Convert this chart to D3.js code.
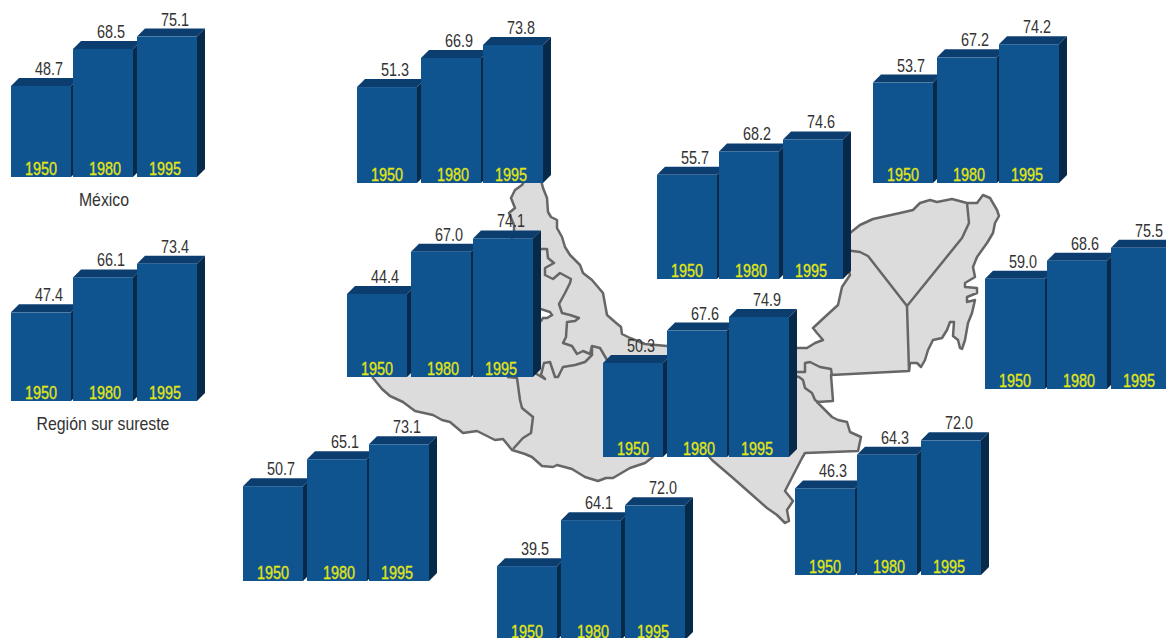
<!DOCTYPE html>
<html>
<head>
<meta charset="utf-8">
<script src="https://cdnjs.cloudflare.com/ajax/libs/d3/7.8.5/d3.min.js"></script>
<style>
body{margin:0;background:#fff;overflow:hidden}
svg{display:block}
text{font-family:"Liberation Sans",Arial,sans-serif;text-anchor:middle}
</style>
</head>
<body>
<div id="graph"></div>
<script>
var years = ['1950', '1980', '1995']

// esperanza de vida, one list per little chart
var mexico = [48.7, 68.5, 75.1]
var surSureste = [47.4, 66.1, 73.4]
var topLeft = [51.3, 66.9, 73.8]
var topRight = [53.7, 67.2, 74.2]
var midTop = [55.7, 68.2, 74.6]
var farRight = [59.0, 68.6, 75.5]
var midLeft = [44.4, 67.0, 74.1]
var center = [50.3, 67.6, 74.9]
var lowLeft = [50.7, 65.1, 73.1]
var bottom = [39.5, 64.1, 72.0]
var lowRight = [46.3, 64.3, 72.0]

var captions = ['México', 'Región sur sureste']

// where each chart sits: [series, left, baseline, offset of 2nd bar, offset of 3rd bar]
var panels = [
  [mexico, 11, 177, 62, 126],
  [surSureste, 11, 401, 62, 126],
  [topLeft, 357, 183, 64, 126],
  [topRight, 873, 183, 64, 126],
  [midTop, 657, 279, 62, 126],
  [farRight, 985, 389, 62, 126],
  [midLeft, 347, 377, 64, 126],
  [center, 603, 457, 64, 126],
  [lowLeft, 243, 581, 64, 126],
  [bottom, 497, 640, 64, 128],
  [lowRight, 795, 575, 62, 126]
]

// map, in page pixels
var mapOutline = [[522,185],[515,190],[511,198],[515,208],[509,213],[514,225],[514,232],[505,260],[400,340],[370,370],
  [373,378],[382,389],[390,396],[403,402],[415,411],[433,415],[442,420],[450,422],[463,433],[477,431],[495,440],[503,439],
  [512,450],[525,454],[532,457],[542,466],[553,467],[557,465],[572,469],[585,477],[598,481],[606,478],[613,478],[630,468],[645,463],[653,457],
  [653,452],[705,452],[712,460],[733,478],[750,493],[767,508],[777,515],[785,523],[789,521],[787,510],[793,501],[785,491],[802,458],[805,453],
  [858,451],[861,437],[850,432],[847,422],[838,420],[832,417],[823,408],[817,402],[833,401],[831,375],[909,371],[910,363],[917,363],[921,367],
  [925,360],[928,350],[933,340],[942,338],[947,330],[950,322],[954,322],[953,336],[958,340],[960,348],[962,349],[965,340],[968,323],[972,313],
  [975,300],[967,302],[967,297],[977,293],[977,288],[965,287],[965,283],[975,277],[973,267],[977,257],[987,243],[993,233],[995,223],[999,216],
  [997,210],[990,198],[983,195],[977,203],[967,203],[952,199],[937,202],[930,200],[920,203],[913,210],[900,213],[873,219],[860,225],[850,233],
  [846,260],[850,275],[842,287],[838,305],[827,315],[813,328],[817,333],[823,340],[815,343],[807,348],[790,348],
  [667,346],[645,344],[630,338],[622,334],[621,327],[615,322],[607,315],[603,293],[592,280],[583,273],[580,265],[570,255],[565,247],[562,237],
  [557,228],[557,220],[551,217],[548,212],[547,198],[543,188],[541,180],[525,180]]
var mapHole = [[530,309],[541,309],[550,312],[552,315],[547,318],[543,318],[541,321],[530,321]]
var mapBorders = [
  [[530,249],[547,249],[548,258],[554,263],[545,268],[545,275],[553,279],[560,273],[571,279],[570,283],[565,293],[559,304],[562,313],[570,315],
   [579,318],[575,321],[567,322],[566,337],[563,343],[572,346],[577,354],[583,351],[590,354],[592,346],[600,348],[610,365]],
  [[592,346],[592,355],[585,362],[575,365],[563,367],[558,377],[555,377],[550,362],[544,363],[541,375],[545,379],[530,370]],
  [[507,377],[517,378],[520,400],[522,408],[533,417],[531,433],[523,438],[513,449]],
  [[845,250],[860,252],[868,256],[907,306],[962,238],[969,223],[967,203]],
  [[907,306],[909,371]],
  [[790,372],[805,372],[805,363],[810,362],[820,367],[831,369],[832,376]],
  [[790,375],[799,377],[803,380],[805,388],[812,393],[815,400],[818,402]]
]

var depth = 8
var barW = 60
var squeeze = 0.8 // no narrow face installed, so the type gets condensed by hand

var svg = d3.select('#graph').append('svg').attr('width', 1166).attr('height', 638)

var line = d3.line()

svg.append('path')
  .attr('d', line(mapOutline) + 'Z')
  .attr('fill', '#dcdcdc').attr('stroke', '#666').attr('stroke-width', 2.5).attr('stroke-linejoin', 'round')
svg.append('path')
  .attr('d', line(mapHole) + 'Z')
  .attr('fill', '#fff').attr('stroke', '#666').attr('stroke-width', 2.5)
svg.selectAll('path.border').data(mapBorders).enter().append('path')
  .attr('class', 'border')
  .attr('d', line)
  .attr('fill', 'none').attr('stroke', '#666').attr('stroke-width', 2.5).attr('stroke-linejoin', 'round')

var h = d3.scaleLinear().domain([0, 80]).range([0, 149.6])

panels.forEach(drawPanel)

function drawPanel(p){
  var [values, left, base, mid, last] = p
  var x = d3.scaleOrdinal().domain(years).range([0, mid, last])
  var labelX = d3.scaleOrdinal().domain(years).range([30, mid + 32, last + 28])

  var sel = svg.append('g').attr('transform', 'translate(' + left + ',' + base + ')')

  years.forEach((year, i) => {
    var x0 = x(year), y0 = -h(values[i]), x1 = x0 + barW
    var g = sel.append('g')

    g.append('path').attr('fill', '#0c3d6f')
      .attr('d', line([[x0, y0], [x0 + depth, y0 - depth], [x1 + depth, y0 - depth], [x1, y0]]) + 'Z')
    g.append('path').attr('fill', '#072a4b')
      .attr('d', line([[x1, y0], [x1 + depth, y0 - depth], [x1 + depth, -depth], [x1, 0]]) + 'Z')
    g.append('rect').attr('fill', '#0f548f')
      .attr('x', x0).attr('y', y0).attr('width', barW).attr('height', -y0)

    g.append('text').text(values[i].toFixed(1))
      .attr('transform', 'translate(' + (x0 + 38) + ',' + (y0 - depth - 3) + ') scale(' + squeeze + ',1)')
      .attr('fill', '#333').style('font-size', '18px')
    g.append('text').text(year)
      .attr('transform', 'translate(' + labelX(year) + ',-2) scale(' + squeeze + ',1)')
      .attr('fill', '#e4e614').attr('stroke', '#e4e614').attr('stroke-width', 0.3)
      .style('font-size', '18px')
  })
}

svg.selectAll('text.caption').data(captions).enter().append('text')
  .attr('class', 'caption')
  .text(d => d)
  .attr('transform', (d, i) => 'translate(' + [104, 103][i] + ',' + [206, 430][i] + ') scale(0.88,1)')
  .attr('fill', '#333').style('font-size', '18px')
</script>
</body>
</html>
